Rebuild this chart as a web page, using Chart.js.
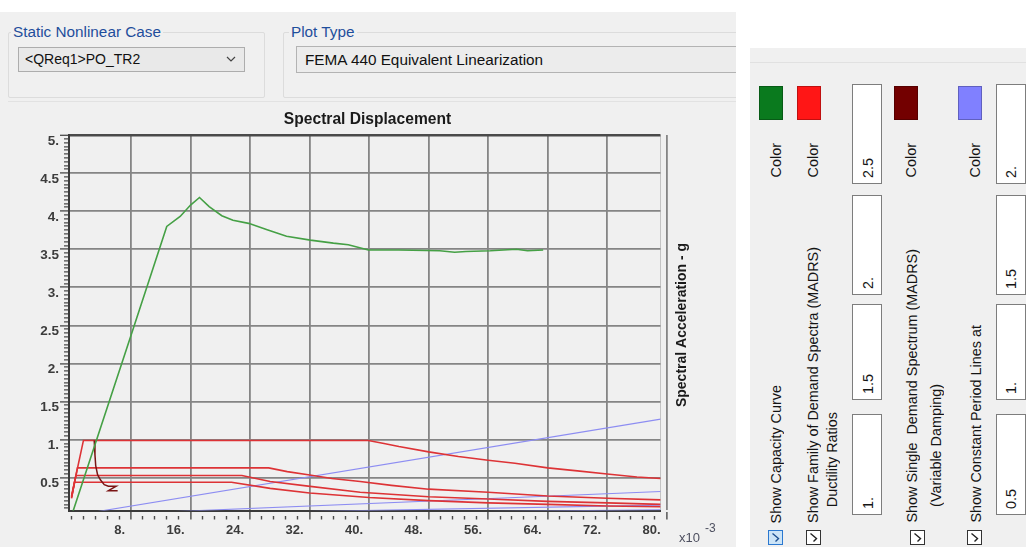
<!DOCTYPE html>
<html>
<head>
<meta charset="utf-8">
<script src="https://cdn.jsdelivr.net/npm/chart.js@4.4.1/dist/chart.umd.min.js"></script>
<style>
  html, body { margin: 0; padding: 0; width: 1026px; height: 547px; overflow: hidden; background: #ffffff;
    font-family: "Liberation Sans", Arial, sans-serif; }
  .abs { position: absolute; }
  #leftPanel { position: absolute; left: 0; top: 12px; width: 736px; height: 535px; background: #f0f0f0; overflow: hidden; }
  .group { position: absolute; border: 1px solid #dcdcdc; border-radius: 2px; }
  .groupTitle { position: absolute; background: #f0f0f0; color: #1f4e9c; font-size: 15.3px; padding: 0 2px; line-height: 17px; white-space: nowrap; }
  .field { position: absolute; box-sizing: border-box; font-size: 15.3px; color: #111; white-space: nowrap; }
  #chartCanvas { position: absolute; left: 0; top: 100px; }
  #rightPanel { position: absolute; left: 750px; top: 48px; width: 276px; height: 499px; background: #f0f0f0; }
  .vt { position: absolute; writing-mode: vertical-rl; transform: rotate(180deg); white-space: nowrap;
    font-size: 14.4px; line-height: 16px; color: #141414; }
  .swatch { position: absolute; width: 24px; height: 34px; box-sizing: border-box; border: 1px solid rgba(0,0,0,0.25); }
  .numbox { position: absolute; width: 30px; box-sizing: border-box; background: #ffffff; border: 1px solid #7d7d7d; }
  .chk { position: absolute; width: 15px; height: 15px; box-sizing: border-box; background: #ffffff; border: 1px solid #333333; }
  .chk svg { position: absolute; left: 0; top: 0; }
</style>
</head>
<body>

<div id="leftPanel">
  <div class="group" style="left:8px; top:20px; width:255px; height:64px;"></div>
  <div class="groupTitle" style="left:11px; top:11px;">Static Nonlinear Case</div>
  <div class="field" style="left:18px; top:35px; width:227px; height:25px; background:#e9e9e9; border:1px solid #adadad; padding-left:6px; line-height:23px; font-size:14px;">&lt;QReq1&gt;PO_TR2</div>
  <svg class="abs" style="left:226px; top:44px;" width="10" height="7"><polyline points="1,1 5,5 9,1" fill="none" stroke="#444" stroke-width="1.2"/></svg>

  <div class="group" style="left:283px; top:20px; width:470px; height:64px;"></div>
  <div class="groupTitle" style="left:289px; top:11px;">Plot Type</div>
  <div class="field" style="left:296px; top:34px; width:460px; height:27px; background:#ececec; border:1px solid #b3b3b3; padding-left:8px; line-height:25px;">FEMA 440 Equivalent Linearization</div>

  <div class="abs" style="left:8px; top:89px; width:728px; height:1px; background:#e2e2e2;"></div>
</div>

<canvas id="chartCanvas" width="736" height="447"></canvas>

<div id="rightPanel">
  <div class="abs" style="left:0; top:14px; width:276px; height:1px; background:#e1e1e1;"></div>
</div>

<script>
// ---- ADRS data: spectral displacement in units of 1e-3 m, spectral acceleration in g ----

// Pushover capacity curve
const capacitySd = [0.0, 8.3, 12.8, 14.6, 16.0, 17.2, 18.5, 20.2, 21.7, 23.8, 26.2, 28.9, 32.1, 35.2, 37.2, 39.9, 44.0, 49.5, 51.5, 53.0, 56.3, 59.8, 61.3, 63.4];
const capacitySa = [0.0, 2.46, 3.80, 3.93, 4.08, 4.18, 4.06, 3.94, 3.88, 3.84, 3.76, 3.67, 3.62, 3.58, 3.56, 3.49, 3.49, 3.48, 3.46, 3.47, 3.48, 3.50, 3.48, 3.49];

// Family of demand spectra (MADRS) for ductility ratios 1, 1.5, 2, 2.5
const demandMu1Sd  = [0.0, 1.6, 39.9, 42.0, 44.0, 48.0, 52.0, 56.0, 59.6, 64.0, 68.0, 72.0, 76.0, 79.2];
const demandMu1Sa  = [0.26, 0.99, 0.99, 0.95, 0.91, 0.84, 0.78, 0.73, 0.69, 0.63, 0.59, 0.55, 0.51, 0.49];
const demandMu15Sd = [0.0, 0.8, 26.5, 29.0, 31.8, 35.0, 38.8, 43.0, 48.0, 56.0, 64.0, 72.0, 79.2];
const demandMu15Sa = [0.25, 0.63, 0.63, 0.58, 0.54, 0.49, 0.45, 0.40, 0.35, 0.31, 0.26, 0.23, 0.21];
const demandMu2Sd  = [0.0, 0.6, 22.9, 26.7, 31.8, 38.8, 48.0, 56.0, 64.0, 72.0, 79.2];
const demandMu2Sa  = [0.24, 0.53, 0.53, 0.45, 0.39, 0.31, 0.25, 0.22, 0.19, 0.17, 0.15];
const demandMu25Sd = [0.0, 0.4, 21.5, 26.7, 32.0, 40.0, 48.0, 56.0, 64.0, 72.0, 79.2];
const demandMu25Sa = [0.23, 0.44, 0.44, 0.36, 0.30, 0.24, 0.20, 0.17, 0.15, 0.13, 0.12];

// Single demand spectrum (MADRS, variable damping)
const singleDemandSd = [3.05, 3.15, 3.25, 3.5, 3.9, 4.4, 4.95, 6.0, 4.95, 6.2];
const singleDemandSa = [0.99, 0.80, 0.66, 0.54, 0.47, 0.41, 0.39, 0.39, 0.33, 0.33];

// Constant period lines (T = 0.5, 1, 1.5, 2 s)
const periodLineSd   = [0.0, 79.2];
const periodT05Sa    = [0.0, 1.27];
const periodT10Sa    = [0.0, 0.32];
const periodT15Sa    = [0.0, 0.14];
const periodT20Sa    = [0.0, 0.08];

// Axis ticks and labels
const xMajorTicks  = [8, 16, 24, 32, 40, 48, 56, 64, 72, 80];
const xTickLabels  = ['8.', '16.', '24.', '32.', '40.', '48.', '56.', '64.', '72.', '80.'];
const yMajorTicks  = [0.5, 1, 1.5, 2, 2.5, 3, 3.5, 4, 4.5, 5];
const yTickLabels  = ['0.5', '1.', '1.5', '2.', '2.5', '3.', '3.5', '4.', '4.5', '5.'];

// Right-hand options panel
const colorSwatches = [
  { x: 759, color: '#0a7a1e' }, { x: 797, color: '#ff1616' },
  { x: 894, color: '#730000' }, { x: 958, color: '#8080ff' }
];
const colorLabelX = [776, 813, 911, 975];
const ductilityRatios = ['2.5', '2.', '1.5', '1.'];
const periodValues    = ['2.', '1.5', '1.', '0.5'];

// ---------------------------------------------------------------------------

const X_MIN = -0.34, X_MAX = 79.17, Y_MIN = 0.07, Y_MAX = 5.0;
const X_MINOR_STEP = 1.6, Y_MINOR_STEP = 0.05;
const FONT = '"Liberation Sans", Arial, sans-serif';

const pairs = (xs, ys) => xs.map((x, i) => ({ x, y: ys[i] }));
const round2 = v => Math.round(v * 100) / 100;
const isIn = (arr, v) => arr.some(a => Math.abs(a - v) < 1e-6);

function xTicks() {
  const t = [];
  for (let v = 0; v < X_MAX; v = round2(v + X_MINOR_STEP)) t.push(v);
  t.push(X_MAX);           // right frame line
  t.push(80);              // last label, sits past the frame
  return t.map(value => ({ value }));
}
function yTicks() {
  const t = [];
  for (let v = 0.1; v <= Y_MAX + 1e-9; v = round2(v + Y_MINOR_STEP)) t.push(v);
  return t.map(value => ({ value }));
}

const lineDs = (label, xs, ys, color, width) => ({
  label, data: pairs(xs, ys), borderColor: color, borderWidth: width,
  pointRadius: 0, fill: false, tension: 0
});

const textPlugin = {
  id: 'adrsText',
  afterDraw(chart) {
    const ctx = chart.ctx;
    ctx.save();
    ctx.fillStyle = '#1a1a1a';
    ctx.font = 'bold 15.6px ' + FONT;
    ctx.textAlign = 'center';
    ctx.textBaseline = 'middle';
    ctx.fillText('Spectral Displacement', 367.5, 20);

    ctx.save();
    ctx.translate(682, 225);
    ctx.rotate(-Math.PI / 2);
    ctx.font = 'bold 14px ' + FONT;
    ctx.fillText('Spectral Acceleration - g', 0, 0);
    ctx.restore();

    ctx.fillStyle = '#4e5060';
    ctx.textAlign = 'left';
    ctx.font = '13px ' + FONT;
    ctx.fillText('x10', 679, 438);
    ctx.font = '12px ' + FONT;
    ctx.fillText('-3', 705, 429);
    ctx.restore();
  }
};

new Chart(document.getElementById('chartCanvas'), {
  type: 'line',
  data: {
    datasets: [
      lineDs('Capacity Curve', capacitySd, capacitySa, '#45a045', 1.6),
      lineDs('Single Demand Spectrum', singleDemandSd, singleDemandSa, '#7a1414', 1.5),
      lineDs('Ductility 1', demandMu1Sd, demandMu1Sa, '#dd3336', 1.6),
      lineDs('Ductility 1.5', demandMu15Sd, demandMu15Sa, '#dd3336', 1.6),
      lineDs('Ductility 2', demandMu2Sd, demandMu2Sa, '#dd3336', 1.6),
      lineDs('Ductility 2.5', demandMu25Sd, demandMu25Sa, '#dd3336', 1.6),
      lineDs('T = 0.5', periodLineSd, periodT05Sa, '#8d8df2', 1.1),
      lineDs('T = 1', periodLineSd, periodT10Sa, '#8d8df2', 1.1),
      lineDs('T = 1.5', periodLineSd, periodT15Sa, '#8d8df2', 1.1),
      lineDs('T = 2', periodLineSd, periodT20Sa, '#8d8df2', 1.1)
    ]
  },
  options: {
    responsive: false,
    animation: false,
    devicePixelRatio: 1,
    layout: { padding: { left: 20, right: 75.5, top: 35, bottom: 0 } },
    plugins: { legend: { display: false }, tooltip: { enabled: false }, title: { display: false } },
    scales: {
      x: {
        type: 'linear', min: X_MIN, max: X_MAX,
        afterBuildTicks: s => { s.ticks = xTicks(); },
        afterFit: s => { s.height = 36.5; },
        border: { display: true, color: '#3a3a3a', width: 2 },
        grid: {
          color: c => isIn(xMajorTicks, c.tick.value) ? '#858585' : (Math.abs(c.tick.value - X_MAX) < 1e-6 ? '#c4c4c4' : 'rgba(0,0,0,0)'),
          lineWidth: c => isIn(xMajorTicks, c.tick.value) ? 1.8 : 1,
          tickColor: '#4a4a4a',
          tickWidth: 1.4,
          tickLength: 9,
          tickBorderDash: c => isIn(xMajorTicks, c.tick.value) ? [] : (Math.abs(c.tick.value - X_MAX) < 1e-6 ? [0, 20] : [0, 4, 4, 40])
        },
        ticks: {
          autoSkip: false, maxRotation: 0, align: 'end', labelOffset: -6, padding: 3,
          color: '#3c3c3c', font: { family: FONT, size: 13, weight: 'bold' },
          callback: v => { const i = xMajorTicks.findIndex(a => Math.abs(a - v) < 1e-6); return i >= 0 ? xTickLabels[i] : ''; }
        }
      },
      y: {
        type: 'linear', min: Y_MIN, max: Y_MAX,
        afterBuildTicks: s => { s.ticks = yTicks(); },
        afterFit: s => { s.width = 49; },
        border: { display: true, color: '#3a3a3a', width: 2 },
        grid: {
          color: c => Math.abs(c.tick.value - Y_MAX) < 1e-6 ? '#4a4a4a' : (isIn(yMajorTicks, c.tick.value) ? '#858585' : 'rgba(0,0,0,0)'),
          lineWidth: c => Math.abs(c.tick.value - Y_MAX) < 1e-6 ? 2.6 : 1.8,
          tickColor: '#4a4a4a',
          tickWidth: 1.3,
          tickLength: 9,
          tickBorderDash: c => isIn(yMajorTicks, c.tick.value) ? [] : [0, 4, 5, 40]
        },
        ticks: {
          autoSkip: false, labelOffset: 6, padding: 1,
          color: '#3c3c3c', font: { family: FONT, size: 13.5, weight: 'bold' },
          callback: v => { const i = yMajorTicks.findIndex(a => Math.abs(a - v) < 1e-6); return i >= 0 ? yTickLabels[i] : ''; }
        }
      }
    }
  },
  plugins: [textPlugin]
});

// ---- options panel (rotated controls) ----
const panel = document.body;
function add(html) { panel.insertAdjacentHTML('beforeend', html); }
function vText(text, cx, bottomY, extra) {
  add(`<div class="vt" style="left:${cx - 8}px; bottom:${547 - bottomY}px; ${extra || ''}">${text}</div>`);
}

colorSwatches.forEach(s => add(`<div class="swatch" style="left:${s.x}px; top:86px; background:${s.color};"></div>`));
colorLabelX.forEach(x => vText('Color', x, 177));

const boxTops = [84, 195, 304, 414];
const boxBottoms = [184, 295, 400, 515];
ductilityRatios.forEach((t, i) => {
  add(`<div class="numbox" style="left:852px; top:${boxTops[i]}px; height:${boxBottoms[i] - boxTops[i]}px;"></div>`);
  vText(t, 868, boxBottoms[i] - 6);
});
periodValues.forEach((t, i) => {
  add(`<div class="numbox" style="left:996px; top:${boxTops[i]}px; height:${boxBottoms[i] - boxTops[i]}px;"></div>`);
  vText(t, 1011, boxBottoms[i] - 6);
});

vText('Show Capacity Curve', 776, 523);
vText('Show Family of Demand Spectra (MADRS)', 813, 523);
vText('Ductility Ratios', 832, 507);
vText('Show Single&nbsp; Demand Spectrum (MADRS)', 912, 523);
vText('(Variable Damping)', 936, 507);
vText('Show Constant Period Lines at', 976, 523);

const checkSvg = stroke => `<svg width="13" height="13"><polyline points="6.5,10.5 9.5,7.5 3.5,2.5" fill="none" stroke="${stroke}" stroke-width="1.4"/></svg>`;
add(`<div class="chk" style="left:768px; top:530px; background:#cce4f7; border-color:#2a78d0;">${checkSvg('#1d4f91')}</div>`);
[806, 910, 967].forEach(x => add(`<div class="chk" style="left:${x}px; top:530px;">${checkSvg('#222')}</div>`));
</script>
</body>
</html>
